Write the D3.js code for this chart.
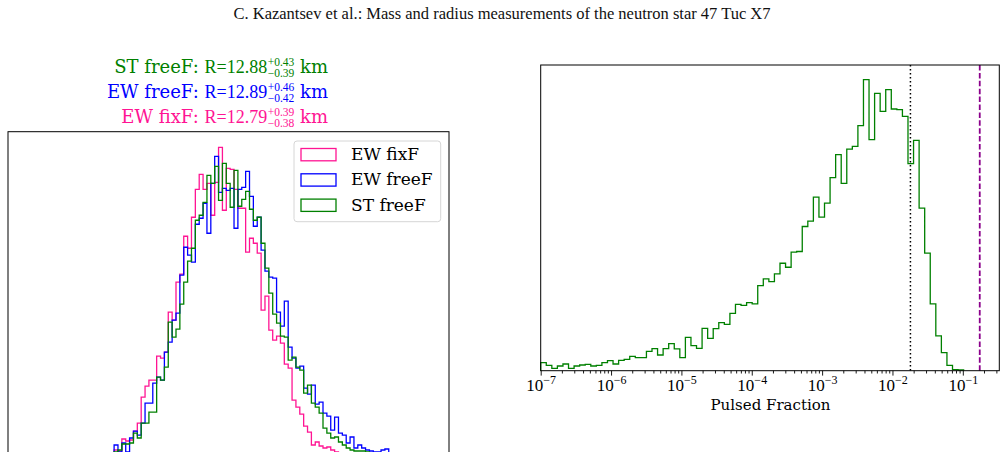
<!DOCTYPE html>
<html lang="en">
<head>
    <meta charset="utf-8">
    <title>47 Tuc X7 - radius and pulsed fraction</title>
    <style type="text/css">
        body { margin: 0; background: #fff; }
        .fig text { font-family: "DejaVu Serif", serif; }
        .fig .math { font-family: "Liberation Serif", serif; }
        .fig .head { font-family: "Liberation Serif", serif; }
    </style>
</head>
<body>
<svg class="fig" width="1007" height="452"></svg>

<script src="https://cdn.jsdelivr.net/npm/d3@7"></script>
<script>
    // ---- data: radius histograms (left panel), bins in km ----
    var radiusBinStart = 11.88,
        radiusBinWidth = 0.035;
    var ewFixF = [10, 9, 21, 19, 20, 29, 37, 63, 74, 80,
        80, 104, 102, 108, 148, 140, 178, 186, 224, 212,
        243, 271, 286, 271, 277, 245, 278, 313, 250, 292,
        291, 271, 252, 252, 208, 222, 217, 207, 150, 164,
        130, 120, 124, 117, 96, 92, 60, 53, 46, 34,
        28, 15, 18, 14, 12, 13, 10, 8, 6, 5, 4];
    var ewFreeF = [15, 8, 17, 8, 22, 29, 25, 37, 57, 57,
        77, 83, 80, 108, 118, 140, 147, 185, 213, 205,
        198, 236, 242, 257, 227, 277, 304, 268, 272, 270,
        272, 232, 271, 273, 289, 264, 234, 243, 210, 189,
        183, 182, 148, 134, 159, 113, 102, 92, 94, 72,
        66, 75, 56, 58, 47, 44, 30, 43, 27, 25,
        17, 23, 12, 15, 12, 10, 9, 8, 8, 10, 11];
    var stFreeF = [8, 10, 16, 16, 17, 27, 22, 37, 37, 48,
        48, 83, 80, 93, 138, 123, 131, 156, 178, 199,
        212, 240, 245, 258, 285, 277, 294, 260, 297, 277,
        253, 290, 254, 261, 269, 251, 240, 243, 217, 192,
        167, 146, 137, 124, 123, 100, 103, 93, 90, 67,
        75, 57, 53, 47, 32, 27, 22, 23, 18, 15,
        12, 10, 9, 9, 9, 8, 7];
    var seriesNames = ['EW fixF', 'EW freeF', 'ST freeF'];
    // radius summaries, printed top to bottom
    var resNames = ['ST freeF', 'EW freeF', 'EW fixF'];
    var resMedian = ['12.88', '12.89', '12.79'];
    var resPlus = ['0.43', '0.46', '0.39'];
    var resMinus = ['0.39', '0.42', '0.38'];

    // ---- data: pulsed fraction histogram (right panel), log10 bins ----
    var pfLogStart = -7,
        pfLogWidth = 0.0791;
    var pfCounts = [80, 53, 23, 47, 67, 23, 47, 57, 63, 47,
        53, 80, 100, 67, 103, 113, 143, 130, 130, 193,
        220, 157, 220, 270, 217, 130, 333, 250, 223, 423,
        323, 420, 480, 463, 573, 663, 653, 680, 667, 850,
        917, 890, 967, 1073, 1033, 1183, 1190, 1440, 1493, 1733,
        1533, 1673, 1927, 2157, 1870, 2213, 2240, 2447, 2907, 2307,
        2770, 2590, 2807, 2613, 2607, 2540, 2067, 2300, 1623, 1173,
        667, 347, 180, 53, 10, 7];
    var pfDecades = [-7, -6, -5, -4, -3, -2, -1];
    var pfDomain = [1e-7, 0.33];
    var pfObserved = 0.018,
        pfUpper = 0.174;
    var pfLabel = 'Pulsed Fraction';
    var pageTitle = 'C. Kazantsev et al.: Mass and radius measurements of the neutron star 47 Tuc X7';

    // ---- styles ----
    var colors = {'EW fixF': '#ff1493', 'EW freeF': '#0000ff', 'ST freeF': '#008000'};
    var svg = d3.select('.fig');

    // page header
    svg.append('text')
        .attr('class', 'head')
        .attr('x', 502).attr('y', 19)
        .attr('text-anchor', 'middle')
        .style('font-size', '16.5px')
        .style('fill', '#111')
        .text(pageTitle);

    // 阶梯直方图的路径
    function stepPoints(edges, counts) {
        var pts = [[edges[0], 0]];
        counts.forEach(function(c, i) { pts.push([edges[i], c]); });
        pts.push([edges[counts.length], counts[counts.length - 1]]);
        pts.push([edges[counts.length], 0]);
        return pts;
    }

    // ================= left panel =================
    var L = {left: 8, right: 449, top: 131.7, bottom: 460};
    var xR = d3.scaleLinear().domain([10.92, 14.91]).range([L.left, L.right]);
    var allMax = d3.max([ewFixF, ewFreeF, stFreeF], function(a) { return d3.max(a); });
    var yR = d3.scaleLinear().domain([0, allMax * 1.05]).range([L.bottom, L.top]);

    svg.append('clipPath').attr('id', 'clipL')
        .append('rect')
        .attr('x', L.left).attr('y', L.top)
        .attr('width', L.right - L.left).attr('height', L.bottom - L.top);

    var gL = svg.append('g').attr('clip-path', 'url(#clipL)');
    [ewFixF, ewFreeF, stFreeF].forEach(function(counts, s) {
        var edges = d3.range(counts.length + 1).map(function(i) { return radiusBinStart + i * radiusBinWidth; });
        var line = d3.line()
            .x(function(d) { return xR(d[0]); })
            .y(function(d) { return yR(d[1]); })
            .curve(d3.curveStepAfter);
        gL.append('path')
            .attr('d', line(stepPoints(edges, counts)))
            .attr('fill', 'none')
            .attr('stroke', colors[seriesNames[s]])
            .attr('stroke-width', 1.3);
    });

    svg.append('rect')
        .attr('x', L.left).attr('y', L.top)
        .attr('width', L.right - L.left).attr('height', L.bottom - L.top)
        .attr('fill', 'none').attr('stroke', '#000').attr('stroke-width', 1);

    // radius summaries above the panel (right aligned)
    resNames.forEach(function(name, i) {
        var col = colors[name];
        var g = svg.append('g').style('fill', col);
        var fs = 18, ss = 11.5;
        var t1 = g.append('text').style('font-size', fs + 'px').style('white-space', 'pre').text(name + ': ');
        var w1 = t1.node().getComputedTextLength();
        var t2 = g.append('text').attr('class', 'math').attr('x', w1)
            .style('font-size', fs + 'px').text('R=' + resMedian[i]);
        var w2 = t2.node().getComputedTextLength() + 0.5;
        var up = g.append('text').attr('class', 'math').attr('x', w1 + w2).attr('y', -7.2)
            .style('font-size', ss + 'px').text('+' + resPlus[i]);
        var lo = g.append('text').attr('class', 'math').attr('x', w1 + w2).attr('y', 4.6)
            .style('font-size', ss + 'px').text('\u2212' + resMinus[i]);
        var w3 = Math.max(up.node().getComputedTextLength(), lo.node().getComputedTextLength());
        var t4 = g.append('text').attr('x', w1 + w2 + w3).style('font-size', fs + 'px')
            .style('white-space', 'pre').text(' km');
        var total = w1 + w2 + w3 + t4.node().getComputedTextLength();
        g.attr('transform', 'translate(' + (328 - total) + ',' + (72.7 + i * 25) + ')');
    });

    // legend
    var lg = svg.append('g').attr('transform', 'translate(294,141)');
    lg.append('rect')
        .attr('width', 146.7).attr('height', 80.7).attr('rx', 3)
        .attr('fill', '#fff').attr('fill-opacity', 0.8)
        .attr('stroke', '#d6d6d6').attr('stroke-width', 1);
    seriesNames.forEach(function(name, i) {
        lg.append('rect')
            .attr('x', 7).attr('y', 7.5 + i * 25.3)
            .attr('width', 35).attr('height', 12.3)
            .attr('fill', 'none').attr('stroke', colors[name]).attr('stroke-width', 1.3);
        lg.append('text')
            .attr('x', 57).attr('y', 19 + i * 25.3)
            .style('font-size', '17px')
            .text(name);
    });

    // ================= right panel =================
    var R = {left: 540.7, right: 999.3, top: 65, bottom: 370.7};
    var xP = d3.scaleLog().domain(pfDomain).range([R.left, R.right]);
    var yP = d3.scaleLinear().domain([0, d3.max(pfCounts) * 1.05]).range([R.bottom, R.top]);

    var pfEdges = d3.range(pfCounts.length + 1).map(function(i) { return Math.pow(10, pfLogStart + i * pfLogWidth); });
    var pfLine = d3.line()
        .x(function(d) { return xP(d[0]); })
        .y(function(d) { return yP(d[1]); })
        .curve(d3.curveStepAfter);
    svg.append('path')
        .attr('d', pfLine(stepPoints(pfEdges, pfCounts)))
        .attr('fill', 'none')
        .attr('stroke', colors['ST freeF'])
        .attr('stroke-width', 1.3);

    // reference lines
    svg.append('line')
        .attr('x1', xP(pfObserved)).attr('x2', xP(pfObserved))
        .attr('y1', R.top).attr('y2', R.bottom)
        .attr('stroke', '#000').attr('stroke-width', 1.5)
        .attr('stroke-dasharray', '1.5,2.5');
    svg.append('line')
        .attr('x1', xP(pfUpper)).attr('x2', xP(pfUpper))
        .attr('y1', R.top).attr('y2', R.bottom)
        .attr('stroke', '#8b008b').attr('stroke-width', 1.8)
        .attr('stroke-dasharray', '5.5,2.4');

    // x axis: minor then major ticks
    var minor = [];
    pfDecades.concat([0]).forEach(function(e) {
        d3.range(2, 10).forEach(function(m) {
            var v = m * Math.pow(10, e);
            if (v > pfDomain[0] && v < pfDomain[1]) minor.push(v);
        });
    });
    var majors = pfDecades.map(function(e) { return Math.pow(10, e); });

    var gAx = svg.append('g').attr('transform', 'translate(0,' + R.bottom + ')');
    gAx.append('g')
        .call(d3.axisBottom(xP).tickValues(minor).tickSize(2.8).tickFormat(''))
        .call(function(g) { g.select('.domain').remove(); });
    var gMaj = gAx.append('g')
        .call(d3.axisBottom(xP).tickValues(majors).tickSize(4.9).tickPadding(3).tickFormat(''));
    gMaj.select('.domain').remove();
    gAx.selectAll('.tick line').attr('stroke', '#000').attr('stroke-width', 0.9);

    gMaj.selectAll('.tick text')
        .attr('class', 'math')
        .attr('y', 20.5)
        .attr('dy', null)
        .style('font-size', '17px')
        .style('fill', '#000')
        .each(function(d, i) {
            var t = d3.select(this);
            t.append('tspan').text('10');
            t.append('tspan').attr('dy', -7).style('font-size', '12px').text('\u2212' + Math.abs(pfDecades[i]));
        });

    svg.append('rect')
        .attr('x', R.left).attr('y', R.top)
        .attr('width', R.right - R.left).attr('height', R.bottom - R.top)
        .attr('fill', 'none').attr('stroke', '#000').attr('stroke-width', 1);

    svg.append('text')
        .attr('x', (R.left + R.right) / 2 + 0.5).attr('y', 410)
        .attr('text-anchor', 'middle')
        .style('font-size', '15px')
        .text(pfLabel);
</script>
</body>
</html>
